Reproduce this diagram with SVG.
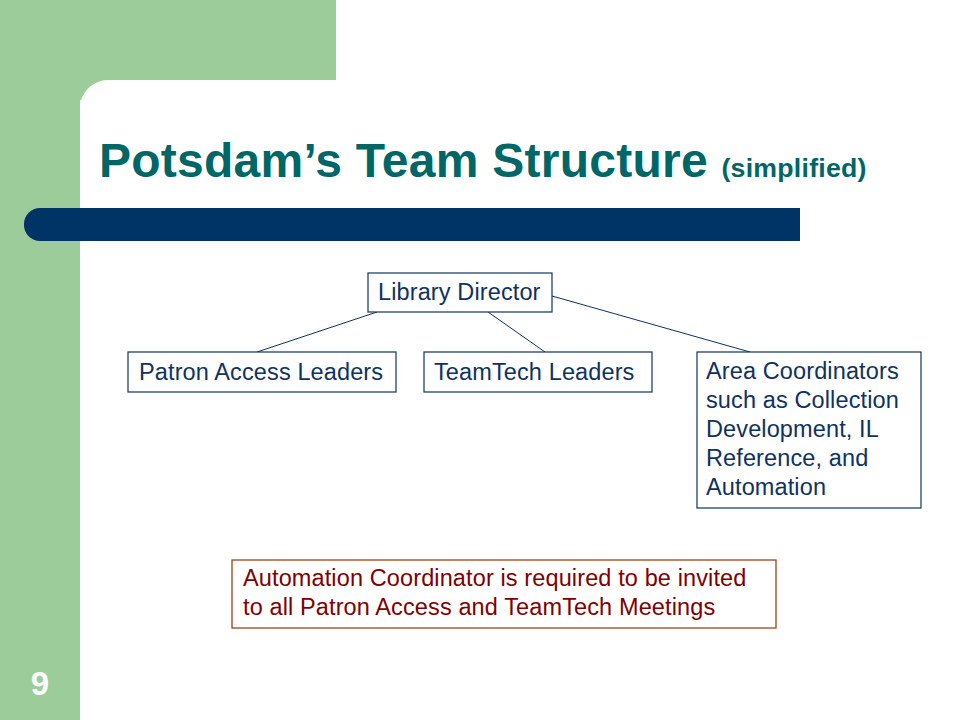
<svg xmlns="http://www.w3.org/2000/svg" width="960" height="720" viewBox="0 0 960 720">
<style>
.node rect{fill:#ffffff;stroke:#0f3260;stroke-width:1.2}
.node text{font-family:"Liberation Sans",Arial,sans-serif;font-size:23.5px;fill:#0f3260;letter-spacing:0.12px}
.note rect{fill:#ffffff;stroke:#993300;stroke-width:1.2}
.note text{font-family:"Liberation Sans",Arial,sans-serif;font-size:23.5px;fill:#800000;letter-spacing:0.12px}
#connectors line{stroke:#0f3260;stroke-width:1}
.title{font-family:"Liberation Sans",Arial,sans-serif;font-weight:bold;fill:#006666;letter-spacing:0.25px}
</style>
<rect x="0" y="0" width="960" height="720" fill="#ffffff"/>
<rect x="0" y="0" width="336" height="100" fill="#9ccc9a"/>
<rect x="0" y="0" width="80" height="720" fill="#9ccc9a"/>
<rect x="80" y="80" width="920" height="700" rx="28" ry="28" fill="#ffffff"/>
<rect x="24" y="208" width="776" height="33" rx="16" ry="16" fill="#003366"/>
<rect x="65" y="208" width="735" height="33" fill="#003366"/>
<text class="title" x="99" y="177" font-size="48">Potsdam’s Team Structure <tspan font-size="26.7">(simplified)</tspan></text>
<text x="40" y="695" text-anchor="middle" font-family="Liberation Sans,Arial,sans-serif" font-weight="bold" font-size="33" fill="#ffffff">9</text>
<g id="connectors">
<line x1="377" y1="312" x2="257" y2="352"/>
<line x1="488" y1="312" x2="545" y2="352"/>
<line x1="552" y1="296" x2="750" y2="352"/>
</g>
<g id="library-director" class="node">
<rect x="368" y="273" width="184" height="39"/>
<text x="378" y="300">Library Director</text>
</g>
<g id="patron-access" class="node">
<rect x="128" y="352" width="268" height="40"/>
<text x="139" y="380">Patron Access Leaders</text>
</g>
<g id="teamtech" class="node">
<rect x="424" y="352" width="228" height="40"/>
<text x="434" y="380">TeamTech Leaders</text>
</g>
<g id="area-coordinators" class="node">
<rect x="697" y="352" width="224" height="156"/>
<text x="706" y="379">Area Coordinators</text>
<text x="706" y="408">such as Collection</text>
<text x="706" y="437">Development, IL</text>
<text x="706" y="466">Reference, and</text>
<text x="706" y="495">Automation</text>
</g>
<g id="note" class="note">
<rect x="232" y="560" width="544" height="68"/>
<text x="243" y="586">Automation Coordinator is required to be invited</text>
<text x="243" y="615">to all Patron Access and TeamTech Meetings</text>
</g>
</svg>
